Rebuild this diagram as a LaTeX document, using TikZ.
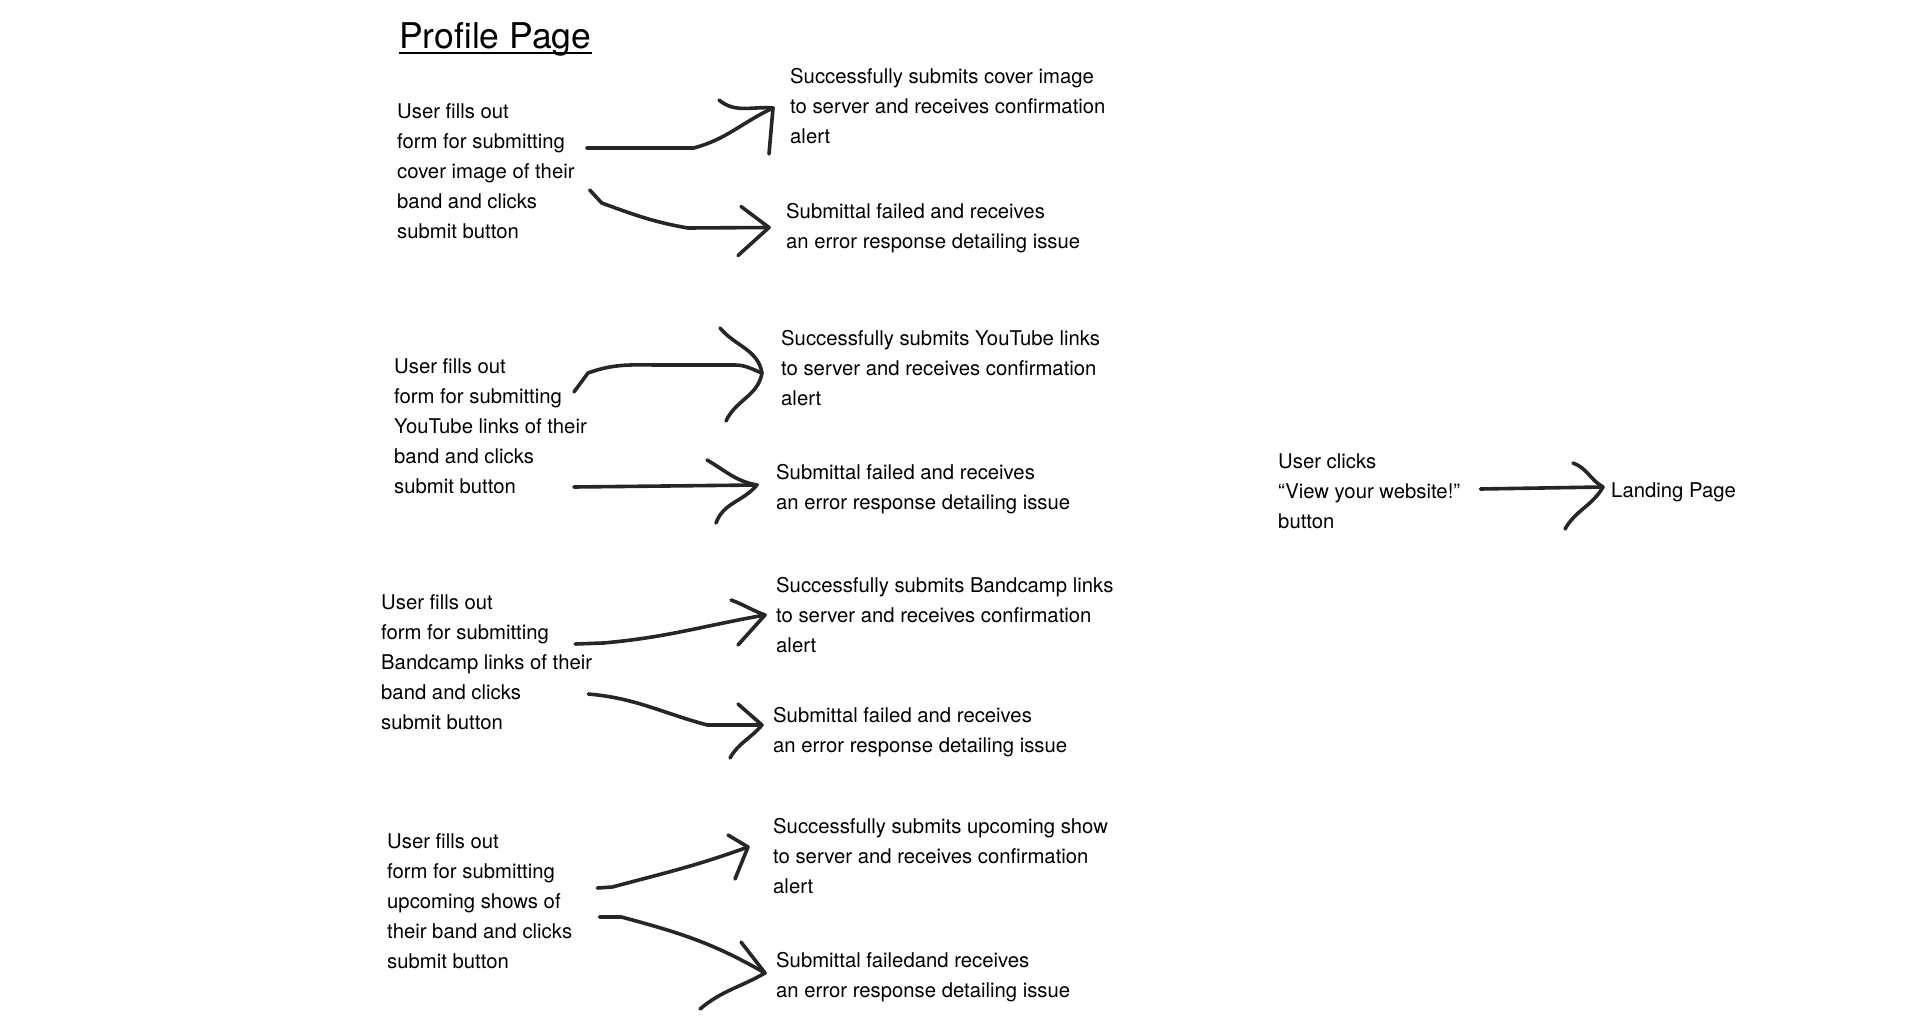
\documentclass[tikz,border=0pt]{standalone}
\usepackage{fontspec}
\setmainfont{TeX Gyre Heros}
\usepackage{tikz}

\begin{document}
\begin{tikzpicture}[
        x=1pt, y=1pt,
        formnode/.style={anchor=west, align=left, inner sep=0pt, font=\fontsize{20.3}{30}\selectfont},
        resultnode/.style={anchor=west, align=left, inner sep=0pt, font=\fontsize{20.3}{30}\selectfont},
        titlenode/.style={anchor=base west, inner sep=0pt, font=\fontsize{35.5}{40}\selectfont},
        sketch/.style={draw, black!85, line width=3.6pt, line cap=round, line join=round}
    ]
    \useasboundingbox (0,0) rectangle (1920,-1035);

    % ==========================================
    % 0. Title
    % ==========================================
    \node[titlenode] (title) at (399,-49) {Profile Page};
    \draw[line width=1.8pt] ([yshift=-4pt]title.base west) -- ([yshift=-4pt]title.base east);

    % ==========================================
    % 1. Cover image form
    % ==========================================
    \node[formnode] (form1) at (397,-171) {User fills out\\form for submitting\\cover image of their\\band and clicks\\submit button};
    \node[resultnode] (ok1) at (790,-106) {Successfully submits cover image\\to server and receives confirmation\\alert};
    \node[resultnode] (err1) at (786,-228.5) {Submittal failed and receives\\an error response detailing issue};

    \coordinate (t1) at ([shift={(-17,-2)}]ok1.west);
    \coordinate (t2) at ([shift={(-17,1)}]err1.west);
    \path[sketch] ([shift={(12,23)}]form1.east) -- ++(107,0) to[out=15,in=205] (t1);
    \path[sketch] (t1) ++(-54,8) to[out=-40,in=175] (t1) -- ++(-4,-46);
    \path[sketch] ([shift={(15,-19)}]form1.east) -- ++(12,-13) to[out=-20,in=170] ++(86,-25) -- (t2);
    \path[sketch] (t2) ++(-28,21) -- (t2) -- ++(-31,-28);

    % ==========================================
    % 2. YouTube links form
    % ==========================================
    \node[formnode] (form2) at (394,-426) {User fills out\\form for submitting\\YouTube links of their\\band and clicks\\submit button};
    \node[resultnode] (ok2) at (781,-368) {Successfully submits YouTube links\\to server and receives confirmation\\alert};
    \node[resultnode] (err2) at (776,-489.5) {Submittal failed and receives\\an error response detailing issue};

    \coordinate (t3) at ([shift={(-19,-5)}]ok2.west);
    \coordinate (t4) at ([shift={(-19,4.5)}]err2.west);
    \path[sketch] ([shift={(-13,34)}]form2.east) -- ++(14,19) to[out=20,in=180] ++(73,8) -- ++(74,0) to[out=0,in=160] (t3);
    \path[sketch] (t3) ++(-42,45) to[out=-50,in=100] (t3) to[out=-100,in=65] ++(-36,-48);
    \path[sketch] ([shift={(-13,-61)}]form2.east) -- (t4);
    \path[sketch] (t4) ++(-50,25) to[out=-30,in=170] (t4) to[out=-130,in=70] ++(-41,-38);

    % ==========================================
    % 3. Bandcamp links form
    % ==========================================
    \node[formnode] (form3) at (381,-662) {User fills out\\form for submitting\\Bandcamp links of their\\band and clicks\\submit button};
    \node[resultnode] (ok3) at (776,-615) {Successfully submits Bandcamp links\\to server and receives confirmation\\alert};
    \node[resultnode] (err3) at (773,-732.5) {Submittal failed and receives\\an error response detailing issue};

    \coordinate (t5) at ([shift={(-11,0)}]ok3.west);
    \coordinate (t6) at ([shift={(-11,7.5)}]err3.west);
    \path[sketch] ([shift={(-17,18)}]form3.east) -- ++(28,1) to[out=5,in=190] (t5);
    \path[sketch] (t5) ++(-34,15) to[out=-20,in=160] (t5) -- ++(-27,-30);
    \path[sketch] ([shift={(-4,-32)}]form3.east) to[out=-5,in=165] ++(119,-31) -- (t6);
    \path[sketch] (t6) ++(-24,21) -- (t6) to[out=-130,in=60] ++(-32,-33);

    % ==========================================
    % 4. Upcoming shows form
    % ==========================================
    \node[formnode] (form4) at (387,-901) {User fills out\\form for submitting\\upcoming shows of\\their band and clicks\\submit button};
    \node[resultnode] (ok4) at (773,-856) {Successfully submits upcoming show\\to server and receives confirmation\\alert};
    \node[resultnode] (err4) at (776,-977.5) {Submittal failedand receives\\an error response detailing issue};

    \coordinate (t7) at ([shift={(-25,9)}]ok4.west);
    \coordinate (t8) at ([shift={(-11,4.5)}]err4.west);
    \path[sketch] ([shift={(25,13)}]form4.east) -- ++(15,1) to[out=15,in=200] (t7);
    \path[sketch] (t7) ++(-20,12) -- (t7) -- ++(-13,-32);
    \path[sketch] ([shift={(27,-16)}]form4.east) -- ++(22,0) to[out=-15,in=150] (t8);
    \path[sketch] (t8) ++(-24,31) -- (t8) to[out=-150,in=40] ++(-65,-36);

    % ==========================================
    % 5. View website button (far right)
    % ==========================================
    \node[formnode] (click) at (1278,-491) {User clicks\\“View your website!”\\button};
    \node[resultnode] (landing) at (1611,-492) {Landing Page};

    \coordinate (t9) at ([shift={(-8,5)}]landing.west);
    \path[sketch] ([shift={(20,2)}]click.east) -- (t9);
    \path[sketch] (t9) ++(-30,24) to[out=-20,in=150] (t9) to[out=-120,in=60] ++(-38,-42);

\end{tikzpicture}
\end{document}
